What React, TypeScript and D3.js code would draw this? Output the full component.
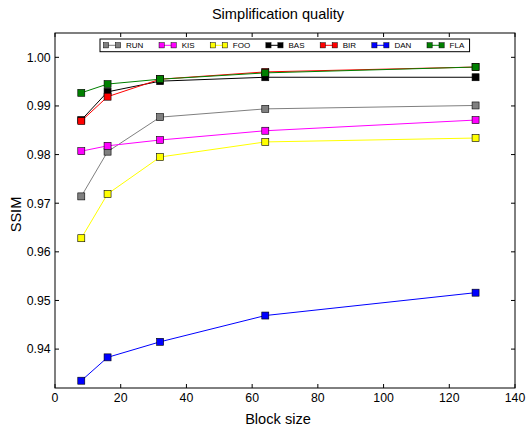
import React, { useMemo } from "react";
import * as d3 from "d3";

const blockSizes = [8, 16, 32, 64, 128];
const seriesNames = ["RUN", "KIS", "FOO", "BAS", "BIR", "DAN", "FLA"];
const seriesColors = ["#808080", "#ff00ff", "#ffff00", "#000000", "#ff0000", "#0000ff", "#008000"];
const runValues = [0.9714, 0.9806, 0.9877, 0.9894, 0.9901];
const kisValues = [0.9807, 0.9818, 0.9830, 0.9849, 0.9871];
const fooValues = [0.9628, 0.9719, 0.9795, 0.9826, 0.9834];
const basValues = [0.9871, 0.9929, 0.9951, 0.9959, 0.9959];
const birValues = [0.9869, 0.9919, 0.9955, 0.9970, 0.9980];
const danValues = [0.9335, 0.9383, 0.9415, 0.9469, 0.9516];
const flaValues = [0.9927, 0.9945, 0.9955, 0.9968, 0.9980];
const allValues = [runValues, kisValues, fooValues, basValues, birValues, danValues, flaValues];
const xTicks = [0, 20, 40, 60, 80, 100, 120, 140];
const yTicks = [0.94, 0.95, 0.96, 0.97, 0.98, 0.99, 1.0];

const W = 528;
const H = 426;
const M = { left: 55, right: 515, top: 33, bottom: 388 };
const FONT = "Liberation Sans, Arial, sans-serif";

export default function App() {
  const x = d3.scaleLinear().domain([0, 140]).range([M.left, M.right]);
  const y = d3.scaleLinear().domain([0.932, 1.005]).range([M.bottom, M.top]);
  const line = d3
    .line<number>()
    .x((_, i) => x(blockSizes[i]))
    .y((d) => y(d));

  const legendFont = 8;
  const gap = 15.3;
  const widths = useMemo(() => {
    const c = document.createElement("canvas").getContext("2d");
    return seriesNames.map((n) => {
      if (!c) return n.length * 5.4;
      c.font = `${legendFont}px "Liberation Sans"`;
      return c.measureText(n).width;
    });
  }, []);
  const legendStarts: number[] = [];
  let cur = 103;
  widths.forEach((w) => {
    legendStarts.push(cur);
    cur += 23 + w + gap;
  });
  const legendRight = cur - gap + 5.3;

  const tick = 4;
  const ms = 7;

  return (
    <svg
      width={W}
      height={H}
      style={{ position: "absolute", left: 0, top: 0, background: "#fff" }}
      fontFamily={FONT}
    >
      <rect x={0} y={0} width={W} height={H} fill="#fff" />
      <text x={278} y={19} textAnchor="middle" fontSize={14.6} fill="#000">
        Simplification quality
      </text>
      {/* series */}
      {allValues.map((vals, si) => (
        <g key={seriesNames[si]}>
          <path d={line(vals) || ""} fill="none" stroke={seriesColors[si]} strokeWidth={1} />
          {vals.map((v, i) => (
            <rect
              key={i}
              x={x(blockSizes[i]) - ms / 2}
              y={y(v) - ms / 2}
              width={ms}
              height={ms}
              fill={seriesColors[si]}
              stroke="#000"
              strokeWidth={0.6}
            />
          ))}
        </g>
      ))}
      {/* frame */}
      <rect
        x={M.left}
        y={M.top}
        width={M.right - M.left}
        height={M.bottom - M.top}
        fill="none"
        stroke="#000"
        strokeWidth={1}
      />
      {/* x ticks */}
      {xTicks.map((t) => (
        <g key={"x" + t}>
          <line x1={x(t)} x2={x(t)} y1={M.bottom} y2={M.bottom - tick} stroke="#000" />
          <line x1={x(t)} x2={x(t)} y1={M.top} y2={M.top + tick} stroke="#000" />
          <text x={x(t)} y={401.5} textAnchor="middle" fontSize={12.3} fill="#000">
            {t}
          </text>
        </g>
      ))}
      {/* y ticks */}
      {yTicks.map((t) => (
        <g key={"y" + t}>
          <line x1={M.left} x2={M.left + tick} y1={y(t)} y2={y(t)} stroke="#000" />
          <line x1={M.right} x2={M.right - tick} y1={y(t)} y2={y(t)} stroke="#000" />
          <text x={50.7} y={y(t) + 4.4} textAnchor="end" fontSize={12.3} fill="#000">
            {t.toFixed(2)}
          </text>
        </g>
      ))}
      <text x={278} y={424} textAnchor="middle" fontSize={14.6} fill="#000">
        Block size
      </text>
      <text
        transform={`translate(20.5,${(M.top + M.bottom) / 2 + 4}) rotate(-90)`}
        textAnchor="middle"
        fontSize={14.6}
        fill="#000"
      >
        SSIM
      </text>
      {/* legend */}
      <rect x={100} y={39} width={legendRight - 100} height={12.7} fill="#fff" stroke="#000" strokeWidth={1} />
      {seriesNames.map((n, i) => {
        const s = legendStarts[i];
        const cy = 45.3;
        return (
          <g key={"leg" + n}>
            <line x1={s + 3} x2={s + 15} y1={cy} y2={cy} stroke={seriesColors[i]} strokeWidth={1} />
            {[s + 3, s + 15].map((cx, k) => (
              <rect
                key={k}
                x={cx - 2.6}
                y={cy - 2.6}
                width={5.2}
                height={5.2}
                fill={seriesColors[i]}
                stroke="#000"
                strokeWidth={0.5}
              />
            ))}
            <text x={s + 23} y={cy + 2.9} fontSize={legendFont} fill="#000">
              {n}
            </text>
          </g>
        );
      })}
    </svg>
  );
}
